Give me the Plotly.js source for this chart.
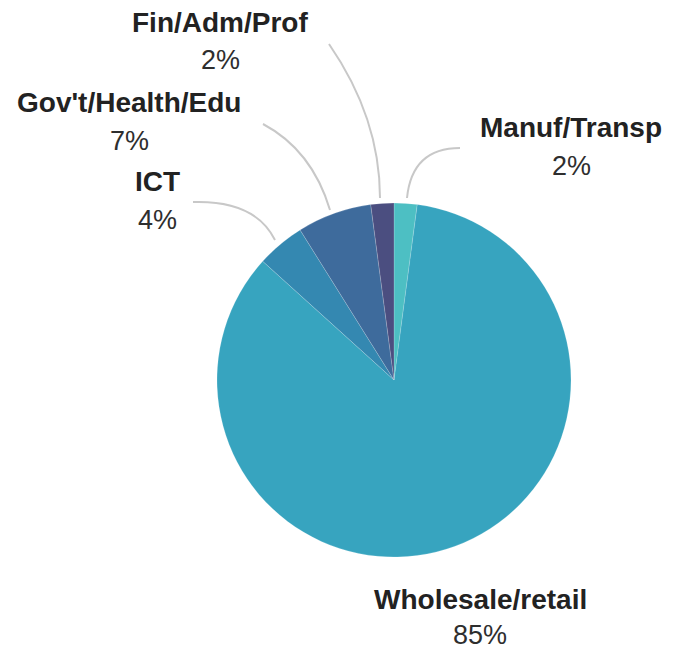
<!DOCTYPE html>
<html><head><meta charset="utf-8">
<script src="https://cdn.plot.ly/plotly-3.0.1.min.js"></script>
<style>html,body{margin:0;padding:0;background:#fff}</style>
</head><body><div id="chart" style="width:678px;height:649px"></div>
<script>
const categories = ["Manuf/Transp", "Wholesale/retail", "ICT", "Gov't/Health/Edu", "Fin/Adm/Prof"];
const values = [2.1, 84.6, 4.4, 6.8, 2.1];
const pctLabels = ["2%", "85%", "4%", "7%", "2%"];
const colors = ["#4dbfc3", "#37a4bf", "#3488b1", "#3e6b9c", "#4b4e80"];

const W = 678, H = 649;
const px = x => x / W, py = y => 1 - y / H;

// label placements (pixel centres of name line)
const labelPos = [[571, 128], [480, 599], [157, 182], [129, 103], [220, 22]];
const leaders = [
  [[460,148],[412,148],[407,198]],
  null,
  [[193,202],[255,200],[275,240]],
  [[263,124],[312,150],[330,210]],
  [[329,44],[380,118],[380,198]]
];

const annotations = [], shapes = [];
categories.forEach((c, i) => {
  const [x, y] = labelPos[i];
  annotations.push({xref:'paper', yref:'paper', x:px(x), y:py(y), text:'<b>'+c+'</b>', showarrow:false,
    xanchor:'center', yanchor:'middle', font:{family:'Liberation Sans, Arial, sans-serif', size:28, color:'#222'}});
  annotations.push({xref:'paper', yref:'paper', x:px(x), y:py(Math.min(y+38, 635)), text:pctLabels[i], showarrow:false,
    xanchor:'center', yanchor:'middle', font:{family:'Liberation Sans, Arial, sans-serif', size:27, color:'#2e2e2e'}});
  const l = leaders[i];
  if (l) {
    shapes.push({type:'path', xref:'paper', yref:'paper',
      path:`M ${px(l[0][0])} ${py(l[0][1])} Q ${px(l[1][0])} ${py(l[1][1])} ${px(l[2][0])} ${py(l[2][1])}`,
      line:{color:'#c8c8c8', width:2}});
  }
});

const cx = 394, cy = 380, r = 177;
Plotly.newPlot('chart', [{
  type:'pie', labels:categories, values:values, sort:false, direction:'clockwise', rotation:0,
  marker:{colors:colors, line:{color:'rgba(255,255,255,0.35)', width:0.5}},
  textinfo:'none', hoverinfo:'label+percent',
  domain:{x:[px(cx-r), px(cx+r)], y:[py(cy+r), py(cy-r)]}
}], {
  width:W, height:H, margin:{l:0,r:0,t:0,b:0}, showlegend:false,
  paper_bgcolor:'#fff', annotations:annotations, shapes:shapes
}, {displayModeBar:false, staticPlot:true});
</script></body></html>
